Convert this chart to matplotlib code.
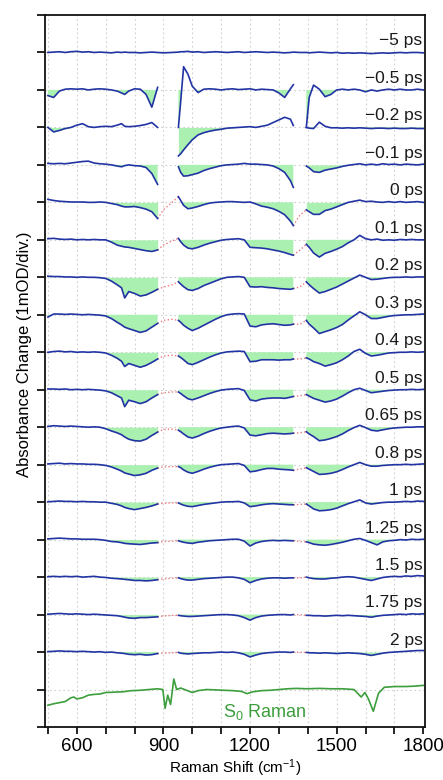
import numpy as np
import matplotlib
matplotlib.use("Agg")
import matplotlib.pyplot as plt
from matplotlib.ticker import MultipleLocator, FixedLocator

plt.rcParams['font.family'] = ['Liberation Sans', 'DejaVu Sans']
plt.rcParams['mathtext.fontset'] = 'custom'
plt.rcParams['mathtext.rm'] = 'Liberation Sans'
plt.rcParams['mathtext.it'] = 'Liberation Sans'

# ---------------- data (mOD, relative to each trace's baseline) ----------------
delay_labels = ['−5 ps', '−0.5 ps', '−0.2 ps', '−0.1 ps', '0 ps', '0.1 ps', '0.2 ps',
                '0.3 ps', '0.4 ps', '0.5 ps', '0.65 ps', '0.8 ps', '1 ps', '1.25 ps',
                '1.5 ps', '1.75 ps', '2 ps']

seg1_x = [500, 520, 540, 560, 580, 600, 620, 640, 660, 680, 700, 720, 740, 755, 766,
          780, 800, 820, 840, 860, 880]
seg2_x = [952, 960, 970, 985, 1000, 1020, 1040, 1060, 1080, 1100, 1120, 1140, 1160,
          1180, 1200, 1220, 1240, 1260, 1280, 1300, 1320, 1340, 1350]
seg3_x = [1395, 1405, 1420, 1440, 1460, 1480, 1500, 1520, 1540, 1560, 1580, 1600,
          1620, 1640, 1660, 1680, 1700, 1720, 1740, 1760, 1780, 1800]
gap1_x = [900, 930]
gap2_x = [1372]

# -5 ps: continuous trace (seg1 + gap1 + seg2 + gap2 + seg3)
dA_m5 = [0.0, 0.01, 0.02, 0.0, 0.02, 0.03, 0.01, 0.02, 0.0, 0.01, 0.0, -0.01, 0.01, 0.0, 0.01,
         0.0, 0.0, -0.01, 0.0, 0.01, 0.0,
         -0.01, 0.0,
         0.01, 0.02, 0.02, 0.03, 0.01, 0.02, 0.0, 0.01, 0.02, 0.01, 0.0, 0.01, 0.02, 0.0,
         0.01, 0.02, 0.01, 0.0, 0.01, 0.0, -0.01, 0.0, 0.01,
         0.0,
         0.0, -0.01, 0.0, 0.01, 0.0, -0.01, 0.0, -0.02, -0.01, -0.02, -0.01, -0.02, -0.03,
         -0.02, -0.01, -0.02, -0.01, 0.0, -0.01, 0.0, 0.0, -0.01]

# other traces: seg1 (21) + seg2 (23) + seg3 (22)
dA_m05 = [-0.15, -0.2, -0.03, 0.02, 0.03, 0.02, 0.03, 0.0, 0.02, 0.03, 0.02, 0.0, -0.03, -0.08,
          -0.12, -0.03, 0.03, 0.02, -0.12, -0.46, 0.07,
          -1.0, -0.3, 0.62, 0.42, 0.1, -0.07, 0.02, 0.03, 0.02, 0.0, 0.02, 0.03, 0.01, 0.02,
          0.03, 0.0, 0.02, 0.01, 0.0, -0.08, -0.2, 0.03, 0.14,
          -1.0, -0.2, 0.13, 0.02, -0.18, -0.12, 0.0, 0.02, 0.0, 0.02, 0.0, -0.05, 0.0, -0.03,
          0.0, 0.02, 0.0, 0.02, 0.0, 0.0, 0.02, 0.0]
dA_m02 = [0.0, -0.12, -0.08, -0.03, 0.0, 0.06, 0.1, 0.02, 0.0, 0.02, 0.03, 0.02, 0.06, 0.1,
          0.03, 0.02, 0.03, 0.05, 0.08, 0.13, 0.0,
          -0.76, -0.7, -0.6, -0.46, -0.33, -0.2, -0.14, -0.1, -0.07, -0.05, -0.02, -0.01, 0.0,
          0.01, 0.02, 0.0, 0.03, 0.06, 0.13, 0.2, 0.27, 0.22, 0.05,
          0.0, -0.02, -0.03, 0.14, 0.03, -0.01, -0.01, -0.02, -0.01, -0.02, -0.01, -0.02, -0.03,
          -0.02, -0.02, -0.03, -0.02, -0.03, -0.03, -0.02, -0.03, -0.03]
dA_m01 = [0.04, 0.03, 0.04, 0.03, 0.05, 0.07, 0.09, 0.1, 0.05, 0.03, 0.02, 0.0, -0.03, -0.05,
          -0.02, 0.0, -0.02, -0.03, -0.07, -0.23, -0.52,
          -0.05, -0.2, -0.3, -0.29, -0.26, -0.22, -0.15, -0.1, -0.06, -0.02, 0.0, 0.01, 0.02,
          0.04, 0.02, 0.02, 0.01, 0.0, -0.03, -0.1, -0.2, -0.42, -0.6,
          -0.03, -0.08, -0.18, -0.2, -0.14, -0.11, -0.08, -0.04, -0.01, 0.01, 0.03, 0.0, 0.02,
          0.0, 0.03, 0.01, 0.02, 0.0, 0.02, 0.01, 0.0, 0.02]
dA_0 = [0.08, 0.05, 0.03, 0.02, 0.01, 0.01, 0.01, 0.0, 0.0, 0.01, 0.0, -0.03, -0.06, -0.1,
        -0.12, -0.12, -0.11, -0.14, -0.18, -0.25, -0.43,
        0.15, 0.05, -0.08, -0.17, -0.15, -0.11, -0.06, -0.02, 0.0, 0.01, 0.02, 0.02, 0.01,
        0.0, 0.01, -0.04, -0.1, -0.13, -0.17, -0.24, -0.33, -0.5, -0.62,
        -0.2, -0.25, -0.32, -0.32, -0.22, -0.18, -0.12, -0.06, 0.0, 0.03, 0.06, 0.02, 0.03,
        0.01, 0.0, 0.02, 0.0, 0.02, 0.0, 0.01, 0.02, 0.0]
dA_01 = [0.03, 0.04, 0.02, 0.01, 0.02, 0.0, 0.01, 0.0, 0.01, 0.0, 0.0, -0.06, -0.14,
         -0.17, -0.19, -0.2, -0.23, -0.26, -0.29, -0.31, -0.27,
         0.04, -0.05, -0.14, -0.22, -0.24, -0.2, -0.14, -0.09, -0.05, -0.01, 0.01, 0.02, 0.03,
         0.0, -0.2, -0.21, -0.22, -0.24, -0.27, -0.3, -0.34, -0.39, -0.41,
         -0.12, -0.2, -0.35, -0.46, -0.36, -0.31, -0.25, -0.18, -0.08, 0.0, 0.12, 0.03, 0.0,
         0.02, -0.01, 0.0, -0.01, 0.01, 0.0, 0.01, 0.0, 0.0]
dA_02 = [0.03, 0.02, 0.02, 0.01, 0.01, 0.0, 0.01, 0.0, 0.0, -0.01, -0.03, -0.1, -0.2,
         -0.28, -0.55, -0.38, -0.43, -0.5, -0.47, -0.4, -0.32,
         -0.12, -0.18, -0.25, -0.33, -0.35, -0.3, -0.22, -0.16, -0.1, -0.04, 0.0, 0.01, 0.02,
         0.0, -0.25, -0.26, -0.25, -0.27, -0.28, -0.3, -0.31, -0.32, -0.3,
         -0.12, -0.2, -0.3, -0.42, -0.38, -0.32, -0.26, -0.18, -0.1, -0.02, 0.06, 0.0, -0.06,
         -0.05, -0.03, -0.01, 0.0, 0.0, 0.01, 0.0, 0.01, 0.01]
dA_03 = [-0.06, 0.02, 0.02, 0.01, 0.02, 0.01, 0.0, 0.01, 0.0, -0.01, -0.03, -0.1, -0.2,
         -0.27, -0.33, -0.37, -0.42, -0.47, -0.43, -0.33, -0.23,
         -0.15, -0.2, -0.28, -0.36, -0.42, -0.36, -0.28, -0.2, -0.12, -0.05, 0.0, 0.02, 0.03,
         0.02, -0.3, -0.32, -0.27, -0.25, -0.24, -0.26, -0.28, -0.27, -0.25,
         -0.15, -0.25, -0.35, -0.5, -0.45, -0.4, -0.34, -0.26, -0.14, -0.03, 0.08, 0.0, -0.1,
         -0.1, -0.07, -0.04, -0.02, -0.01, 0.0, 0.0, 0.01, 0.02]
dA_04 = [0.0, 0.02, 0.03, 0.01, 0.02, 0.0, 0.01, 0.0, 0.01, 0.0, -0.02, -0.08, -0.16,
         -0.24, -0.38, -0.3, -0.35, -0.4, -0.35, -0.27, -0.18,
         -0.1, -0.14, -0.2, -0.3, -0.33, -0.27, -0.2, -0.13, -0.07, -0.02, 0.01, 0.02, 0.03,
         0.02, -0.25, -0.24, -0.2, -0.2, -0.2, -0.21, -0.2, -0.2, -0.18,
         -0.15, -0.18, -0.25, -0.3, -0.37, -0.33, -0.28, -0.2, -0.1, 0.02, 0.08, -0.03, -0.1,
         -0.08, -0.05, -0.02, -0.01, 0.0, 0.0, 0.01, 0.0, 0.01]
dA_05 = [0.02, 0.02, 0.01, 0.02, 0.0, 0.01, 0.0, 0.01, 0.0, -0.01, -0.03, -0.08, -0.16,
         -0.22, -0.45, -0.28, -0.32, -0.37, -0.32, -0.22, -0.13,
         -0.06, -0.1, -0.16, -0.24, -0.27, -0.22, -0.16, -0.1, -0.05, -0.01, 0.01, 0.02, 0.03,
         -0.02, -0.27, -0.3, -0.25, -0.23, -0.22, -0.22, -0.23, -0.2, -0.18,
         -0.13, -0.17, -0.23, -0.28, -0.33, -0.3, -0.25, -0.17, -0.08, 0.0, 0.04, -0.02, -0.08,
         -0.06, -0.04, -0.02, -0.01, 0.0, 0.0, 0.01, 0.0, 0.01]
dA_065 = [0.02, 0.04, 0.03, 0.02, 0.03, 0.02, 0.01, 0.0, 0.01, 0.0, -0.04, -0.1, -0.15,
          -0.2, -0.26, -0.32, -0.36, -0.37, -0.32, -0.22, -0.13,
          -0.08, -0.12, -0.18, -0.26, -0.29, -0.24, -0.17, -0.11, -0.06, -0.02, 0.0, 0.02,
          0.03, -0.02, -0.21, -0.23, -0.2, -0.17, -0.16, -0.17, -0.18, -0.17, -0.16,
          -0.12, -0.18, -0.25, -0.36, -0.34, -0.3, -0.25, -0.18, -0.09, -0.01, 0.05, -0.01, -0.08,
          -0.1, -0.07, -0.04, -0.02, -0.01, 0.0, 0.0, 0.01, 0.01]
dA_08 = [0.02, 0.03, 0.04, 0.02, 0.03, 0.02, 0.02, 0.01, 0.01, 0.0, -0.02, -0.06, -0.12,
         -0.17, -0.22, -0.25, -0.29, -0.27, -0.23, -0.15, -0.09,
         -0.05, -0.08, -0.14, -0.2, -0.23, -0.18, -0.12, -0.07, -0.03, 0.0, 0.01, 0.02, 0.03,
         -0.02, -0.19, -0.17, -0.13, -0.1, -0.1, -0.12, -0.13, -0.14, -0.15,
         -0.08, -0.12, -0.18, -0.26, -0.25, -0.23, -0.19, -0.13, -0.06, 0.0, 0.06, 0.0, -0.04,
         -0.04, -0.02, -0.01, 0.0, 0.0, 0.01, 0.0, 0.01, 0.02]
dA_1 = [0.01, 0.02, 0.03, 0.02, 0.02, 0.01, 0.02, 0.01, 0.01, 0.0, 0.0, -0.03, -0.06, -0.1,
        -0.14, -0.17, -0.2, -0.17, -0.14, -0.1, -0.05,
        -0.02, -0.05, -0.08, -0.11, -0.12, -0.09, -0.06, -0.04, -0.02, 0.0, 0.01, 0.01, 0.02,
        -0.02, -0.12, -0.1, -0.07, -0.05, -0.04, -0.05, -0.06, -0.07, -0.07,
        -0.05, -0.1, -0.18, -0.23, -0.22, -0.2, -0.16, -0.1, -0.04, 0.01, 0.06, -0.02, -0.05,
        -0.03, -0.01, 0.0, 0.0, 0.01, 0.02, 0.01, 0.03, 0.02]
dA_125 = [0.02, 0.03, 0.04, 0.03, 0.02, 0.02, 0.01, 0.01, 0.01, 0.0, -0.02, -0.05, -0.06,
          -0.08, -0.1, -0.11, -0.12, -0.13, -0.11, -0.09, -0.08,
          -0.03, -0.05, -0.07, -0.09, -0.1, -0.07, -0.05, -0.03, -0.02, -0.01, 0.0, 0.01, 0.01,
          -0.04, -0.17, -0.09, -0.05, -0.03, -0.02, -0.03, -0.02, -0.03, -0.03,
          -0.06, -0.08, -0.12, -0.14, -0.15, -0.13, -0.1, -0.07, -0.03, 0.01, 0.03, -0.02, -0.08,
          -0.14, -0.06, -0.03, -0.02, 0.0, -0.01, 0.01, 0.0, 0.01]
dA_15 = [0.01, 0.02, 0.01, 0.02, 0.01, 0.02, 0.0, 0.01, 0.02, 0.0, -0.01, -0.03, -0.04, -0.05,
         -0.06, -0.07, -0.09, -0.09, -0.1, -0.09, -0.07,
         -0.02, -0.04, -0.06, -0.08, -0.08, -0.06, -0.04, -0.03, -0.02, -0.01, 0.0, 0.0, -0.02,
         -0.06, -0.15, -0.09, -0.05, -0.03, -0.02, -0.02, -0.03, -0.02, -0.02,
         0.0, -0.02, -0.04, -0.05, -0.05, -0.03, -0.02, 0.0, 0.01, 0.0, -0.03, -0.06, -0.09,
         -0.05, -0.01, 0.01, 0.02, 0.01, 0.03, 0.02, 0.04, 0.03]
dA_175 = [0.01, 0.02, 0.03, 0.02, 0.01, 0.02, 0.01, 0.0, 0.01, 0.0, -0.01, -0.02, -0.03, -0.05,
          -0.07, -0.09, -0.1, -0.08, -0.08, -0.07, -0.06,
          -0.02, -0.03, -0.04, -0.05, -0.05, -0.04, -0.03, -0.02, -0.01, 0.0, 0.0, -0.01, -0.03,
          -0.08, -0.15, -0.08, -0.04, -0.02, -0.01, 0.0, 0.0, -0.01, 0.0,
          -0.02, -0.02, -0.03, -0.03, -0.04, -0.03, -0.02, -0.03, -0.02, -0.03, -0.04, -0.05, -0.07,
          -0.04, -0.02, -0.01, 0.0, 0.01, 0.0, 0.02, 0.01, 0.02]
dA_2 = [0.01, 0.02, 0.03, 0.02, 0.02, 0.01, 0.02, 0.01, 0.0, 0.01, -0.01, 0.0, -0.02, -0.03,
        -0.04, -0.06, -0.07, -0.06, -0.08, -0.07, -0.04,
        -0.01, -0.03, -0.04, -0.05, -0.04, -0.03, -0.02, -0.02, -0.01, 0.0, -0.01, 0.0, -0.02,
        -0.06, -0.13, -0.08, -0.04, -0.02, -0.01, 0.0, 0.0, -0.01, 0.0,
        -0.01, -0.02, -0.02, -0.03, -0.02, -0.03, -0.04, -0.03, -0.02, -0.03, -0.04, -0.06, -0.09,
        -0.06, -0.03, -0.01, 0.0, 0.01, 0.02, 0.03, 0.04, 0.04]

# dotted connections across the two gaps (0 ps ... 2 ps)
gap1_a = [-0.2, -0.14, -0.26, -0.15, -0.1, -0.08, -0.06, -0.06, -0.03, -0.05, -0.05, -0.04, -0.03]
gap1_b = [0.0, -0.03, -0.2, -0.12, -0.08, -0.06, -0.05, -0.05, -0.02, -0.04, -0.03, -0.02, -0.02]
gap2_c = [-0.35, -0.28, -0.26, -0.25, -0.18, -0.16, -0.15, -0.12, -0.06, -0.05, -0.02, 0.0, -0.01]

# ground-state (S0) Raman spectrum
s0_x = [500, 520, 540, 560, 580, 590, 600, 620, 640, 660, 680, 700, 730, 760, 790, 820, 850,
        880, 898, 906, 915, 925, 936, 946, 960, 980, 1000, 1020, 1050, 1080, 1110, 1140, 1170,
        1190, 1210, 1240, 1270, 1300, 1330, 1360, 1400, 1440, 1480, 1520, 1560, 1585, 1598,
        1610, 1627, 1645, 1665, 1700, 1740, 1770, 1800]
s0_y = [-0.42, -0.38, -0.35, -0.32, -0.22, -0.2, -0.25, -0.22, -0.15, -0.13, -0.12, -0.08,
        -0.07, -0.06, -0.03, -0.02, 0.0, 0.02, 0.0, -0.5, -0.15, -0.4, 0.28, 0.0, 0.04, -0.02,
        -0.08, -0.03, 0.0, -0.01, -0.02, -0.03, -0.05, -0.11, -0.06, -0.03, -0.02, 0.0, 0.02,
        0.03, 0.02, 0.03, 0.02, 0.02, 0.0, -0.2, -0.08, -0.25, -0.58, -0.1, 0.06, 0.08, 0.08,
        0.09, 0.11]

transients = [dA_m05, dA_m02, dA_m01, dA_0, dA_01, dA_02, dA_03, dA_04, dA_05, dA_065,
              dA_08, dA_1, dA_125, dA_15, dA_175, dA_2]

# ---------------- figure ----------------
W, H = 443, 780
fig = plt.figure(figsize=(W / 100, H / 100), dpi=100)
ax = fig.add_axes([45 / W, 1 - 727 / H, 380 / W, 712 / H])

line_c = '#2234a4'
fill_c = '#aaf0b0'
dot_c = '#ee7a7a'
s0_c = '#3c9e3c'
txt_c = '#1a1a1a'
ntr = len(delay_labels)

segs = [seg1_x, seg2_x, seg3_x]
n1, n2 = len(seg1_x), len(seg2_x)

# -5 ps (continuous)
off = ntr + 1
full_x = seg1_x + gap1_x + seg2_x + gap2_x + seg3_x
ax.plot(full_x, np.array(dA_m5) + off, color=line_c, lw=1.2, zorder=3)
ax.text(1797, off + 0.19, delay_labels[0], ha='right', va='baseline', fontsize=12.5,
        color=txt_c, zorder=5)

# -0.5 ps ... 2 ps
for i, tr in enumerate(transients):
    off = ntr - i
    vals = np.array(tr)
    parts = [vals[:n1], vals[n1:n1 + n2], vals[n1 + n2:]]
    for sx, sy in zip(segs, parts):
        sx = np.array(sx)
        ax.fill_between(sx, sy + off, off, where=sy < 0, interpolate=True,
                        color=fill_c, lw=0, zorder=2)
        ax.plot(sx, sy + off, color=line_c, lw=1.2, zorder=3)
    j = i - 3  # index into gap arrays (0 ps onward)
    if j >= 0:
        ax.plot([seg1_x[-1]] + gap1_x + [seg2_x[0]],
                np.array([parts[0][-1], gap1_a[j], gap1_b[j], parts[1][0]]) + off,
                color=dot_c, ls=(0, (1, 1.6)), lw=1.0, zorder=2.5)
        ax.plot([seg2_x[-1]] + gap2_x + [seg3_x[0]],
                np.array([parts[1][-1], gap2_c[j], parts[2][0]]) + off,
                color=dot_c, ls=(0, (1, 1.6)), lw=1.0, zorder=2.5)
    ax.text(1797, off + 0.19, delay_labels[i + 1], ha='right', va='baseline',
            fontsize=12.5, color=txt_c, zorder=5)

# S0 Raman
ax.plot(s0_x, np.array(s0_y) + 1, color=s0_c, lw=1.2, zorder=3)
ax.text(1252, 1 - 0.72, r'S$_0$ Raman', ha='center', va='baseline', fontsize=13,
        color=s0_c, zorder=5)

# axes styling
ax.set_xlim(490, 1806)
ax.set_ylim(0, 19)
ax.xaxis.set_major_locator(FixedLocator([600, 900, 1200, 1500, 1800]))
ax.xaxis.set_minor_locator(MultipleLocator(100))
ax.yaxis.set_major_locator(MultipleLocator(1))
ax.set_yticklabels([])
ax.tick_params(axis='y', which='major', direction='out', length=6, width=1.2, left=True)
ax.tick_params(axis='x', which='both', direction='out', length=5, width=1.2, labelsize=13.5,
               pad=3)
for s in ax.spines.values():
    s.set_linewidth(1.3)
    s.set_color('#111111')
for xv in range(500, 1800, 100):
    ax.axvline(xv, color='#cfcfcf', ls=(0, (1.5, 2.5)), lw=0.8, zorder=1)
for yv in range(1, 19):
    ax.axhline(yv, color='#cfcfcf', ls=(0, (1.5, 2.5)), lw=0.8, zorder=1)

ax.set_xlabel('Raman Shift (cm$^{-1}$)', fontsize=11, labelpad=2)
fig.text(25 / W, 1 - 354 / H, 'Absorbance Change (1mOD/div.)', rotation=90,
         ha='center', va='center', fontsize=12)

fig.savefig('out.png', dpi=100)
